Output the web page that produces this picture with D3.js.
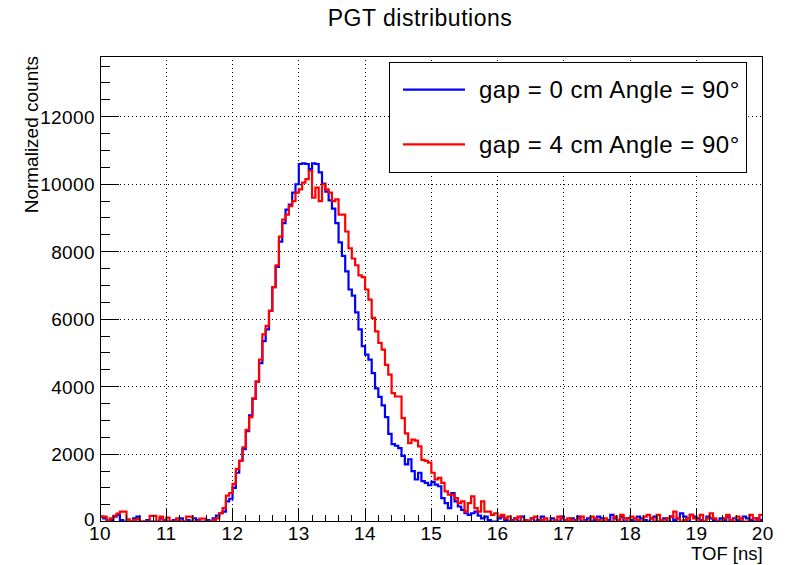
<!DOCTYPE html>
<html><head><meta charset="utf-8">
<script src="https://cdn.jsdelivr.net/npm/d3@7"></script>
<style>body{margin:0;background:#fff}svg{display:block}text{font-family:"Liberation Sans",Arial,Helvetica,sans-serif}</style>
</head><body>
<script>
const title = "PGT distributions";
const xLabel = "TOF [ns]";
const yLabel = "Normalized counts";
const binStart = 10, binWidth = 0.05;
const xTicks = [10,11,12,13,14,15,16,17,18,19,20];
const yTicks = [0,2000,4000,6000,8000,10000,12000];
const seriesNames = ["gap = 0 cm Angle = 90°", "gap = 4 cm Angle = 90°"];
const seriesColors = ["#0000ff", "#ff0000"];
const blue = [
150,100,0,50,150,200,50,0,0,0, 100,150,0,0,50,0,0,0,100,50, 0,0,50,0,100,0,50,0,100,50, 0,0,50,0,100,
180,250,300,600,680,
1000,1450,1800,2150,2680,3150,3650,4150,4700,5350,
5700,6250,6950,7550,8300,8850,9250,9400,9750,10000,
10600,10620,10600,10450,10620,10600,10350,10020,9780,9520,
9280,8850,8280,7880,7420,6880,6700,6200,5700,5200,
4950,4800,4400,3950,3700,3450,3100,2600,2300,2250,
2180,1950,1700,1850,1500,1250,1450,1200,1150,1080,
1180,1100,1050,700,550,400,850,600,450,350,
250,200,250,300,180,100,150,50,0,0,
100,150,50,0,50,100,0,150,50,0,100,0,50,150,0,0,100,50,0,150,
50,0,100,50,150,0,50,100,0,50,150,100,0,50,200,100,50,150,0,100,
50,0,150,100,50,0,100,150,0,50,100,0,150,50,100,250,150,0,200,150,
100,50,0,150,100,50,0,100,50,150,0,100,50,0,150,100,50,0,100,50
];
const red = [
150,150,50,100,170,240,300,300,70,0, 50,80,0,0,0,170,170,0,150,0, 120,0,0,100,0,0,150,150,0,0, 90,90,0,0,50,
100,250,400,770,850,
1120,1560,1800,2200,2720,3100,3650,4150,4800,5550,
5800,6250,6950,7600,8450,8950,9100,9350,9500,9750,
9850,10050,10150,10400,9600,9900,9500,10000,9850,9750,
9500,9550,9100,9100,8600,8100,7800,7600,7300,7250,
6880,6580,6040,5640,5300,5100,4650,4360,3810,3710,
3710,3070,2620,2330,2430,2400,2230,1830,1800,1750,
1450,1250,1300,1150,900,800,800,700,550,600,
300,550,750,400,300,600,300,300,200,250,
150,200,100,150,0,100,150,0,50,0,100,150,0,50,100,0,0,50,150,100,
0,100,50,0,100,150,0,0,150,100,50,0,100,0,0,150,50,200,100,0,
150,100,50,0,150,200,100,0,200,50,0,100,150,300,100,0,50,100,200,100,
0,200,0,100,250,100,0,0,100,200,50,0,150,100,0,0,200,100,50,200
];

const W = 792, H = 565;
const L = 100, R = 762.7, T = 56, B = 521.7;
const svg = d3.select("body").append("svg").attr("width", W).attr("height", H);
const x = d3.scaleLinear().domain([10, 20]).range([L, R]);
const y = d3.scaleLinear().domain([0, 13800]).range([B, T]);

// grid
const grid = svg.append("g").attr("stroke", "#000").attr("stroke-width", 1).attr("stroke-dasharray", "1,3").attr("shape-rendering","crispEdges");
xTicks.slice(1, -1).forEach(t => grid.append("line").attr("x1", x(t)).attr("x2", x(t)).attr("y1", T).attr("y2", B));
yTicks.slice(1).forEach(t => grid.append("line").attr("x1", L).attr("x2", R).attr("y1", y(t)).attr("y2", y(t)));

// histograms
svg.append("clipPath").attr("id", "c").append("rect").attr("x", L).attr("y", T).attr("width", R - L).attr("height", B - T);
function stepPath(vals) {
  let p = "";
  vals.forEach((v, i) => {
    const x0 = x(binStart + i * binWidth), x1 = x(binStart + (i + 1) * binWidth);
    p += (i === 0 ? "M" + x0 + "," + y(v) : "V" + y(v)) + "H" + x1;
  });
  return p;
}
[blue, red].forEach((s, k) => {
  svg.append("path").attr("d", stepPath(s)).attr("fill", "none").attr("stroke", seriesColors[k])
    .attr("stroke-width", 2.2).attr("clip-path", "url(#c)");
});

// frame
svg.append("rect").attr("x", L).attr("y", T).attr("width", R - L).attr("height", B - T)
  .attr("fill", "none").attr("stroke", "#000").attr("stroke-width", 1).attr("shape-rendering","crispEdges");

// axis ticks
const ax = svg.append("g").attr("stroke", "#000").attr("stroke-width", 1).attr("shape-rendering","crispEdges");
d3.range(10, 20.0001, 0.2).forEach(t => {
  const major = Math.abs(t - Math.round(t)) < 1e-6;
  ax.append("line").attr("x1", x(t)).attr("x2", x(t)).attr("y1", B).attr("y2", B - (major ? 13 : 6.5));
});
d3.range(0, 13800, 500).forEach(t => {
  const major = t % 2000 === 0;
  ax.append("line").attr("x1", L).attr("x2", L + (major ? 19 : 9.5)).attr("y1", y(t)).attr("y2", y(t));
});
svg.append("g").selectAll("text").data(xTicks).join("text")
  .attr("x", d => x(d)).attr("y", 540).attr("text-anchor", "middle").attr("font-size", 19).attr("letter-spacing", 0.4).text(d => d);
svg.append("g").selectAll("text").data(yTicks).join("text")
  .attr("x", 95).attr("y", d => y(d) + (d === 0 ? 4 : 6.8)).attr("text-anchor", "end").attr("font-size", 19).attr("letter-spacing", 0.4).text(d => d);

// labels
svg.append("text").attr("x", R).attr("y", 560).attr("text-anchor", "end").attr("font-size", 18.5).text(xLabel);
svg.append("text").attr("transform", "translate(38,56) rotate(-90)").attr("text-anchor", "end").attr("font-size", 19).text(yLabel);
svg.append("text").attr("x", 420).attr("y", 26).attr("text-anchor", "middle").attr("font-size", 23).attr("letter-spacing", 0.5).text(title);

// legend
const lg = svg.append("g");
lg.append("rect").attr("x", 389.5).attr("y", 62).attr("width", 356.5).attr("height", 110)
  .attr("fill", "#fff").attr("stroke", "#000").attr("stroke-width", 1).attr("shape-rendering","crispEdges");
[89.7, 144.3].forEach((yy, k) => {
  lg.append("line").attr("x1", 403).attr("x2", 465).attr("y1", yy).attr("y2", yy).attr("stroke", seriesColors[k]).attr("stroke-width", 2.2);
  lg.append("text").attr("x", 479).attr("y", yy + 8.5).attr("font-size", 24).attr("letter-spacing", 0.5).text(seriesNames[k]);
});
</script>
</body></html>
